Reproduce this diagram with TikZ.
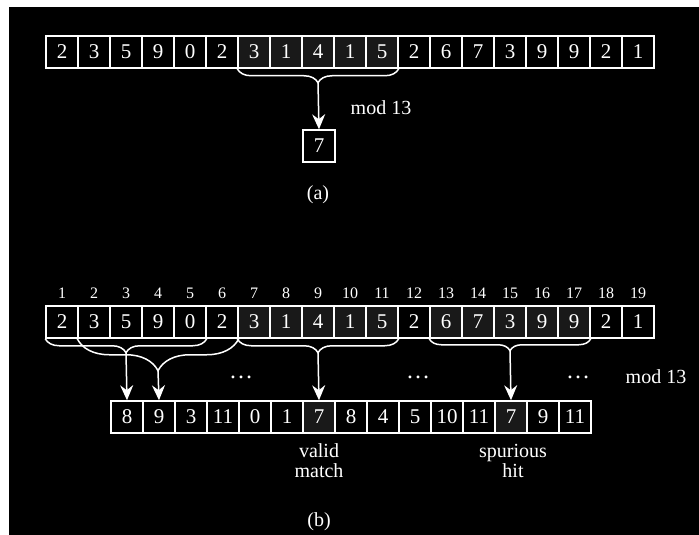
\documentclass[tikz,border=0pt]{standalone}
\usepackage{fontspec}
\setmainfont{Liberation Serif}
\usetikzlibrary{arrows.meta,calc,decorations.pathreplacing}

\begin{document}
\begin{tikzpicture}[x=1pt,y=-1pt,
  cell/.style={draw=white,line width=1.5pt,minimum width=32pt,minimum height=32pt,inner sep=0pt,text=white,font=\fontsize{21}{24}\selectfont},
  window/.style={cell,fill=white!10!black},
  lbl/.style={text=white,font=\fontsize{20}{20}\selectfont,align=center},
  idx/.style={text=white,font=\fontsize{16}{18}\selectfont},
  brc/.style={draw=white,line width=1.5pt,decorate,decoration={brace,mirror,amplitude=#1}},
  hash/.style={draw=white,line width=1.5pt,-{Stealth[length=15pt,width=13pt,inset=5pt]}}]
  \useasboundingbox (0,0) rectangle (699,535);
  \fill[white] (0,0) rectangle (699,535);
  \fill[black] (9,7) rectangle (699,535);

  % (a) one window
  \foreach \v/\s [count=\i] in {2/cell,3/cell,5/cell,9/cell,0/cell,2/cell,3/window,1/window,4/window,1/window,5/window,2/cell,6/cell,7/cell,3/cell,9/cell,9/cell,2/cell,1/cell}
    \node[\s] (t\i) at (30+32*\i,52) {\v};
  \draw[brc=14pt] (t7.south west) -- (t11.south east);
  \coordinate (ta) at ($(t7.south west)!.5!(t11.south east)+(0,14)$);
  \node[cell] (r) at (319,146) {7};
  \draw[hash] (ta) -- (r.north);
  \node[lbl] (ma) at (381,108) {mod 13};
  \node[lbl] (la) at (318,195) {(a)};

  % (b) all windows
  \foreach \i in {1,...,19}
    \node[idx] (n\i) at (30+32*\i,293) {\i};
  \foreach \v/\s [count=\i] in {2/cell,3/cell,5/cell,9/cell,0/cell,2/cell,3/window,1/window,4/window,1/window,5/window,2/cell,6/window,7/window,3/window,9/window,9/window,2/cell,1/cell}
    \node[\s] (p\i) at (30+32*\i,322) {\v};
  \foreach \v/\s [count=\i] in {8/cell,9/cell,3/cell,11/cell,0/cell,1/cell,7/window,8/cell,4/cell,5/cell,10/cell,11/cell,7/window,9/cell,11/cell}
    \node[\s] (h\i) at (95+32*\i,417) {\v};

  % braces and arrows
  \foreach \a/\b/\bd in {1/5/14,2/6/32,7/11/14,13/17/12} {
    \draw[brc=\bd pt] (p\a.south west) -- (p\b.south east);
    \coordinate (w\a) at ($(p\a.south west)!.5!(p\b.south east)+(0,\bd)$);
    \draw[hash] (w\a) -- (h\a.north);
  }

  \node[lbl,font=\fontsize{24}{24}\selectfont] (d1) at (241,377) {\dots};
  \node[lbl,font=\fontsize{24}{24}\selectfont] (d2) at (418,377) {\dots};
  \node[lbl,font=\fontsize{24}{24}\selectfont] (d3) at (578,377) {\dots};
  \node[lbl] (mb) at (656,377) {mod 13};
  \node[lbl] (vm) at (319,461) {valid\\match};
  \node[lbl] (sh) at (513,461) {spurious\\hit};
  \node[lbl] (lb) at (319,522) {(b)};
\end{tikzpicture}
\end{document}
